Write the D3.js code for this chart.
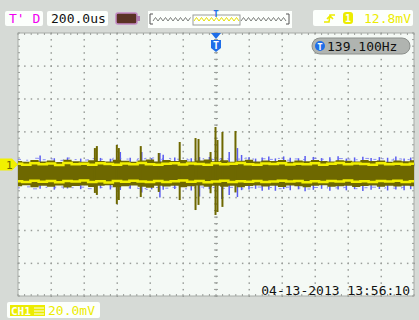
<!DOCTYPE html>
<html><head><meta charset="utf-8">
<script src="https://cdn.jsdelivr.net/npm/d3@7"></script>
<style>
html,body{margin:0;padding:0;background:#d6dad6;}
svg{display:block;}
text{font-family:"DejaVu Sans Mono",monospace;}
</style></head>
<body>
<script>
// ---- scope settings ----
const timePerDiv = 200;   // us
const voltPerDiv = 20;    // mV
const timeTicks = d3.range(-1200, 1201, 200);
const voltTicks = d3.range(-80, 81, 20);
const headerTimebase = "200.0us";
const headerMode = "T' D";
const triggerLevel = "12.8mV";
const freqLabel = "139.100Hz";
const chLabel = "20.0mV";
const dateLabel = "04-13-2013 13:56:10";

// ---- noise band envelope (mV), evenly spaced across the record ----
const oliveTop = [2.1,1.6,2.8,1.9,2.4,1.5,2.9,2.0,1.7,2.6,2.2,1.8,2.9,2.3,1.6,2.5,3.0,1.9,2.7,2.2,2.8,1.8,2.4,3.1,2.0,2.6,1.7,2.3,2.9,1.9,2.5,2.1,2.7,1.6,2.4,2.0,2.8,2.2,1.8,2.6,2.3,1.9,2.7,2.1,2.5,1.7,2.4,2.0,2.6];
const oliveBottom = [-13.2,-12.6,-13.8,-12.9,-13.5,-12.7,-14.0,-13.1,-12.8,-13.7,-13.0,-12.6,-13.9,-13.3,-12.8,-13.6,-14.1,-13.0,-13.4,-12.9,-13.8,-13.2,-12.7,-13.6,-13.0,-13.5,-12.9,-13.8,-13.1,-12.7,-13.4,-13.0,-13.7,-12.8,-13.3,-13.9,-13.0,-12.6,-13.5,-13.2,-12.9,-13.7,-13.1,-12.8,-13.6,-13.0,-13.4,-12.9,-13.3];
const yellowTop = [0.4,-0.2,0.8,0.1,0.6,-0.3,0.9,0.2,0.5,-0.1,0.7,0.3,-0.2,0.6,0.1,0.9,0.2,-0.1,0.5,0.8,0.0,0.6,0.3,-0.2,0.7,0.1,0.5,0.9,0.2,-0.1,0.6,0.3,0.8,0.0,0.5,0.2,0.7,-0.2,0.4,0.9,0.1,0.6,0.3,-0.1,0.7,0.2,0.5,0.0,0.4];
const yellowBottom = [-10.2,-10.7,-9.9,-10.5,-10.1,-10.8,-10.0,-10.4,-9.8,-10.6,-10.2,-10.9,-10.1,-10.5,-9.9,-10.3,-10.7,-10.0,-10.6,-10.2,-9.8,-10.5,-10.1,-10.8,-10.3,-9.9,-10.6,-10.2,-10.5,-10.0,-10.7,-10.3,-9.9,-10.4,-10.1,-10.8,-10.2,-10.6,-10.0,-10.4,-9.8,-10.5,-10.2,-10.7,-10.1,-10.3,-9.9,-10.6,-10.2];

// ---- olive (persistence) spikes: time (us), high (mV), low (mV) ----
const spikeT  = [-734,-722,-601,-589,-456,-347,-220,-124,-106,-33,-3,9,39,118];
const spikeHi = [10.0,11.2,11.9,10.0,11.2,7.0,13.7,16.1,15.5,7.6,22.8,14.9,19.8,20.4];
const spikeLo = [-17.3,-18.5,-24.0,-21.6,-19.8,-16.7,-21.6,-27.7,-24.6,-17.5,-30.7,-28.9,-25.8,-17.0];

// ---- blue (live trace) spikes ----
const blueT  = [-1066,-980,-900,-820,-700,-640,-580,-520,-450,-390,-340,-320,-250,-150,-100,-40,35,80,130,155,200,240,280,320,360,410,450,500,540,590,640,690,740,790,840,890,940,990,1040,1090,1140,1180];
const blueHi = [5.5,3.8,4.2,3.6,4.0,3.5,7.6,4.1,7.6,3.9,7.0,6.0,4.2,3.8,4.5,4.6,4.0,7.6,10.0,5.8,4.4,3.6,4.2,4.8,3.7,4.9,4.1,3.8,5.2,4.6,3.9,4.4,5.0,3.6,4.3,4.7,3.9,4.5,4.1,4.8,3.7,4.2];
const blueLo = [-14.8,-15.3,-14.6,-15.0,-14.5,-15.2,-15.5,-14.7,-17.0,-15.1,-20.0,-15.4,-14.9,-15.8,-19.5,-15.0,-21.0,-18.5,-19.8,-15.6,-15.2,-14.8,-15.9,-15.3,-16.0,-14.9,-15.6,-15.1,-16.2,-15.4,-14.8,-15.9,-15.2,-15.7,-15.0,-16.1,-15.3,-14.9,-15.8,-15.2,-15.6,-15.0];

const W = 419, H = 320;
const svg = d3.select("body").append("svg").attr("width", W).attr("height", H);
svg.append("rect").attr("width", W).attr("height", H).attr("fill", "#d6dad6");

const x = d3.scaleLinear().domain([-1200, 1200]).range([18, 414]);
const y = d3.scaleLinear().domain([-80, 80]).range([296, 33]);
const minorT = timePerDiv / 5, minorV = voltPerDiv / 5;

// plot background
svg.append("rect").attr("x", x(-1200)).attr("y", y(80))
  .attr("width", x(1200) - x(-1200)).attr("height", y(-80) - y(80))
  .attr("fill", "#f4f9f5").attr("stroke", "#a8aca8").attr("stroke-width", 1);

const grid = svg.append("g").attr("fill", "#9a9e9a");
timeTicks.slice(1, -1).forEach(t => {
  d3.range(-80, 80.01, minorV).forEach(v => {
    grid.append("rect").attr("x", x(t) - 0.5).attr("y", y(v) - 0.5).attr("width", 1.5).attr("height", 1.5);
  });
});
voltTicks.slice(1, -1).forEach(v => {
  d3.range(-1200, 1200.01, minorT).forEach(t => {
    grid.append("rect").attr("x", x(t) - 0.5).attr("y", y(v) - 0.5).attr("width", 1.5).attr("height", 1.5);
  });
});
d3.range(-1200, 1200.01, minorT).forEach(t => {
  grid.append("rect").attr("x", x(t) - 0.5).attr("y", y(80)).attr("width", 1).attr("height", 2);
  grid.append("rect").attr("x", x(t) - 0.5).attr("y", y(-80) - 2).attr("width", 1).attr("height", 2);
  grid.append("rect").attr("x", x(t) - 0.5).attr("y", y(0) - 2).attr("width", 1).attr("height", 4);
});
d3.range(-80, 80.01, minorV).forEach(v => {
  grid.append("rect").attr("x", x(-1200)).attr("y", y(v) - 0.5).attr("width", 2).attr("height", 1);
  grid.append("rect").attr("x", x(1200) - 2).attr("y", y(v) - 0.5).attr("width", 2).attr("height", 1);
  grid.append("rect").attr("x", x(0) - 2).attr("y", y(v) - 0.5).attr("width", 4).attr("height", 1);
});

// ---- waveform ----
const n = oliveTop.length;
const tAt = i => -1200 + i * 2400 / (n - 1);
const wave = svg.append("g");

blueT.forEach((t, i) => {
  wave.append("line").attr("x1", x(t)).attr("x2", x(t))
    .attr("y1", y(blueHi[i])).attr("y2", y(blueLo[i]))
    .attr("stroke", "#5a5cf0").attr("stroke-width", 1.5);
});
const blueEdgeTop = d3.line().x((d, i) => x(tAt(i))).y(d => y(d + 1.0)).curve(d3.curveStep);
wave.append("path").datum(oliveTop).attr("d", blueEdgeTop).attr("fill", "none").attr("stroke", "#6a6cf0")
  .attr("stroke-width", 1).attr("stroke-dasharray", "3,6,2,9,4,5").attr("opacity", 0.75);
const blueEdgeBot = d3.line().x((d, i) => x(tAt(i))).y(d => y(d - 1.0)).curve(d3.curveStep);
wave.append("path").datum(oliveBottom).attr("d", blueEdgeBot).attr("fill", "none").attr("stroke", "#6a6cf0")
  .attr("stroke-width", 1).attr("stroke-dasharray", "2,8,3,5,4,10").attr("opacity", 0.75);

const band = d3.area().x((d, i) => x(tAt(i))).y0((d, i) => y(oliveBottom[i])).y1(d => y(d)).curve(d3.curveStep);
wave.append("path").datum(oliveTop).attr("d", band).attr("fill", "#6e6800");

spikeT.forEach((t, i) => {
  wave.append("line").attr("x1", x(t)).attr("x2", x(t))
    .attr("y1", y(spikeHi[i])).attr("y2", y(spikeLo[i]))
    .attr("stroke", "#6e6800").attr("stroke-width", 2);
});

const yl = d3.line().x((d, i) => x(tAt(i))).y(d => y(d)).curve(d3.curveStep);
wave.append("path").datum(yellowTop).attr("d", yl).attr("fill", "none").attr("stroke", "#f2f000").attr("stroke-width", 2.5);
wave.append("path").datum(yellowBottom).attr("d", yl).attr("fill", "none").attr("stroke", "#f2f000").attr("stroke-width", 2.5);

// ---- channel ground marker ----
const gy = y(0);
svg.append("path").attr("d", `M0,${gy-6}L12,${gy-6}L18,${gy}L12,${gy+6}L0,${gy+6}Z`).attr("fill", "#f2f000");
svg.append("text").attr("x", 6).attr("y", gy + 4).attr("font-size", 11).attr("fill", "#6e6800").text("1");

// ---- trigger position marker ----
const tx = x(0);
svg.append("path").attr("d", `M${tx-5},33L${tx+5},33L${tx},39Z`).attr("fill", "#1e6ee8");
svg.append("path").attr("d", `M${tx-5},40L${tx+5},40L${tx+5},48L${tx},52L${tx-5},48Z`).attr("fill", "#1e6ee8");
svg.append("text").attr("x", tx).attr("y", 49).attr("text-anchor", "middle").attr("font-size", 10).attr("font-weight", "bold").attr("fill", "#fff").text("T");

// ---- frequency readout ----
svg.append("rect").attr("x", 312).attr("y", 38).attr("width", 98).attr("height", 16).attr("rx", 8)
  .attr("fill", "#b0b4b0").attr("stroke", "#8c908c");
svg.append("circle").attr("cx", 320).attr("cy", 46).attr("r", 5).attr("fill", "#1e6ee8");
svg.append("text").attr("x", 320).attr("y", 49.5).attr("text-anchor", "middle").attr("font-size", 9).attr("font-weight", "bold").attr("fill", "#fff").text("T");
svg.append("text").attr("x", 327).attr("y", 51).attr("font-size", 13).attr("fill", "#111").text(freqLabel);

// ---- header ----
svg.append("rect").attr("x", 5).attr("y", 11).attr("width", 38).attr("height", 15).attr("rx", 2).attr("fill", "#fcfffc");
svg.append("text").attr("x", 9).attr("y", 23).attr("font-size", 13).attr("fill", "#f000f0").text(headerMode);
svg.append("rect").attr("x", 47).attr("y", 11).attr("width", 61).attr("height", 15).attr("rx", 2).attr("fill", "#fcfffc");
svg.append("text").attr("x", 51).attr("y", 23).attr("font-size", 13).attr("fill", "#111").text(headerTimebase);
svg.append("rect").attr("x", 116).attr("y", 13).attr("width", 21).attr("height", 11).attr("rx", 2).attr("fill", "#5a3224").attr("stroke", "#c48ac4").attr("stroke-width", 1.5);
svg.append("rect").attr("x", 137).attr("y", 16).attr("width", 3).attr("height", 5).attr("fill", "#b07cb0");
svg.append("rect").attr("x", 148).attr("y", 11).attr("width", 144).attr("height", 17).attr("fill", "#fcfffc");
svg.append("rect").attr("x", 193).attr("y", 15).attr("width", 47).attr("height", 10).attr("fill", "#fcfffc").attr("stroke", "#9a9e9a");
const zig = (x0, x1, col) => {
  const pts = [];
  for (let k = 0, xx = x0; xx <= x1; k++, xx += 2.5) pts.push([xx, k % 2 ? 17.5 : 21]);
  svg.append("path").attr("d", d3.line()(pts)).attr("fill", "none").attr("stroke", col).attr("stroke-width", 1);
};
zig(153, 192, "#7a7e7a");
zig(194, 239, "#e8e000");
zig(241, 286, "#7a7e7a");
svg.append("path").attr("d", "M153,14L150,14L150,24L153,24").attr("fill", "none").attr("stroke", "#555");
svg.append("path").attr("d", "M286,14L289,14L289,24L286,24").attr("fill", "none").attr("stroke", "#555");
svg.append("text").attr("x", 216).attr("y", 17).attr("text-anchor", "middle").attr("font-size", 9).attr("font-weight", "bold").attr("fill", "#1e6ee8").text("T");
svg.append("rect").attr("x", 313).attr("y", 10).attr("width", 100).attr("height", 16).attr("rx", 2).attr("fill", "#fcfffc");
svg.append("path").attr("d", "M324,22L329,22L330,15L335,15M327,19L330,16L333,19").attr("fill", "none").attr("stroke", "#ecec00").attr("stroke-width", 1.6);
svg.append("rect").attr("x", 343).attr("y", 12).attr("width", 10).attr("height", 12).attr("rx", 3).attr("fill", "#ecec00");
svg.append("text").attr("x", 348).attr("y", 22).attr("text-anchor", "middle").attr("font-size", 10).attr("font-weight", "bold").attr("fill", "#fcfffc").text("1");
svg.append("text").attr("x", 364).attr("y", 23).attr("font-size", 13).attr("fill", "#ecec00").text(triggerLevel);

// ---- footer ----
svg.append("rect").attr("x", 7).attr("y", 302).attr("width", 93).attr("height", 16).attr("rx", 2).attr("fill", "#fcfffc");
svg.append("rect").attr("x", 10).attr("y", 305).attr("width", 35).attr("height", 11).attr("fill", "#ecec00");
svg.append("text").attr("x", 11).attr("y", 315).attr("font-size", 11).attr("font-weight", "bold").attr("fill", "#fcfff0").text("CH1");
svg.append("path").attr("d", "M34,308L44,308M34,311L44,311M34,314L44,314").attr("stroke", "#fcfff0").attr("stroke-width", 1);
svg.append("text").attr("x", 48).attr("y", 315).attr("font-size", 13).attr("fill", "#ecec00").text(chLabel);

svg.append("text").attr("x", 410).attr("y", 295).attr("text-anchor", "end").attr("font-size", 13).attr("fill", "#111").text(dateLabel);
</script>
</body></html>
